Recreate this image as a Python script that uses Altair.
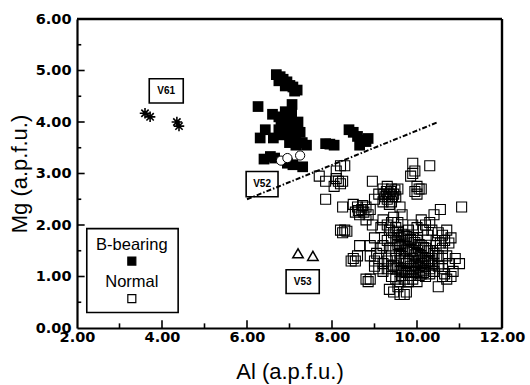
import altair as alt
import pandas as pd

# ---------------- data ----------------
# B-bearing (filled squares)
al_b = [6.69, 6.78, 6.85, 6.94, 7.01, 7.08, 7.18, 6.75, 6.90, 7.12, 6.26, 7.06,
        6.60, 6.75, 6.90, 7.05, 7.20, 6.80, 6.95, 7.10, 7.25, 6.85, 7.00, 7.15,
        7.30, 7.40, 7.00, 7.15, 6.90, 7.05, 6.75, 6.43, 6.31, 6.62,
        6.40, 6.55, 6.65, 7.08, 7.31, 6.95,
        7.85, 7.95, 8.05,
        8.40, 8.50, 8.60, 8.70, 8.80, 8.65, 8.85]
mg_b = [4.92, 4.88, 4.83, 4.78, 4.71, 4.68, 4.62, 4.80, 4.70, 4.60, 4.30, 4.34,
        4.15, 4.10, 4.05, 4.00, 4.00, 3.95, 3.90, 3.85, 3.80, 3.75, 3.75, 3.70,
        3.60, 3.55, 3.60, 3.55, 4.20, 4.15, 3.85, 3.85, 3.69, 3.69,
        3.28, 3.33, 3.30, 3.17, 3.13, 3.20,
        3.58, 3.57, 3.55,
        3.85, 3.80, 3.72, 3.65, 3.62, 3.55, 3.68]

# Normal (open squares)
al_n = [8.20, 8.30, 8.10, 8.15, 8.20, 8.05, 8.25, 7.70, 7.85, 7.85, 8.10,
        9.90, 9.95, 9.90, 10.30, 9.85, 10.00, 10.05, 9.95, 10.10, 10.00,
        9.20, 9.30, 9.40, 9.35, 9.25, 9.45, 9.30, 9.40, 9.20, 9.50, 9.35, 9.10, 9.55, 8.95, 9.60, 9.65, 9.00,
        9.28, 9.38, 9.32, 9.42, 9.22, 9.48,
        8.50, 8.60, 8.70, 8.80, 8.75, 8.65, 8.85, 8.55, 8.90, 8.25, 8.80, 8.62, 8.72,
        8.20, 8.30, 8.35, 8.25,
        9.20, 9.30, 9.40, 9.50, 9.35, 9.45, 9.55, 9.15,
        10.10, 10.20, 10.30, 10.40, 10.55, 10.35, 10.50, 10.60, 10.70, 10.80, 10.75, 10.45, 10.60, 10.25,
        10.15, 10.00, 9.90, 9.80, 9.70, 9.60, 9.50, 9.60, 9.70, 9.80, 9.90, 10.00, 10.10, 10.20, 10.30,
        10.40, 10.50, 10.60, 10.70, 10.75, 9.50, 9.60, 9.70, 9.80, 9.90, 10.00, 10.10, 10.20, 10.30,
        10.40, 10.50, 10.60, 9.40, 9.50, 9.60, 9.70, 9.80, 9.90, 10.00, 10.10, 10.20, 10.30, 10.40,
        9.30, 9.20, 9.10, 9.00, 8.90, 8.90, 9.00, 9.10, 9.20, 9.30, 9.40, 9.50, 9.60, 9.70, 9.80,
        9.90, 10.00, 10.10, 10.20, 10.30, 9.40, 9.50, 9.60, 9.70, 9.80, 9.90, 10.00,
        10.60, 10.70, 10.80, 10.65, 10.85, 11.00, 10.90, 10.50, 9.45, 9.60, 9.70, 9.75, 9.35, 9.55,
        9.20, 9.30, 9.40, 9.45, 9.55, 9.35, 8.80, 8.85, 8.90, 8.50, 8.55, 8.45, 8.60, 8.65,
        9.05, 9.15, 11.05, 9.00, 8.95,
        9.55, 9.65, 9.75, 9.85, 9.95, 10.05, 10.15, 10.25, 10.35,
        9.55, 9.65, 9.75, 9.85, 9.95, 10.05, 10.15, 10.25,
        9.45, 9.55, 9.65, 9.75, 9.85, 9.95, 10.05, 10.15, 10.25, 10.35,
        9.65, 9.75, 9.85, 9.95, 10.05, 10.15, 10.45, 10.55, 10.65]
mg_n = [3.15, 3.15, 3.05, 2.85, 2.80, 2.75, 2.85, 2.95, 2.85, 2.50, 2.90,
        3.20, 3.05, 3.00, 3.15, 2.95, 2.75, 2.70, 2.65, 2.70, 2.60,
        2.70, 2.75, 2.70, 2.60, 2.55, 2.60, 2.50, 2.45, 2.45, 2.55, 2.40, 2.60, 2.70, 2.85, 2.35, 2.20, 2.50,
        2.65, 2.65, 2.55, 2.55, 2.60, 2.68,
        2.40, 2.35, 2.30, 2.35, 2.25, 2.20, 2.20, 2.25, 2.30, 2.35, 2.10, 2.28, 2.38,
        1.90, 1.90, 1.88, 1.85,
        2.10, 2.00, 2.05, 1.95, 1.90, 2.15, 2.05, 1.95,
        2.10, 2.00, 2.05, 2.20, 2.30, 1.90, 1.85, 1.80, 1.90, 1.75, 1.65, 1.70, 1.55, 1.80,
        1.90, 1.95, 2.00, 1.90, 1.80, 1.75, 1.70, 1.60, 1.65, 1.70, 1.75, 1.70, 1.60, 1.55, 1.50,
        1.45, 1.40, 1.35, 1.40, 1.25, 1.50, 1.45, 1.50, 1.55, 1.50, 1.45, 1.40, 1.35, 1.30,
        1.25, 1.20, 1.15, 1.40, 1.35, 1.30, 1.35, 1.30, 1.35, 1.30, 1.25, 1.20, 1.15, 1.10,
        1.30, 1.25, 1.35, 1.30, 1.40, 1.60, 1.20, 1.15, 1.10, 1.15, 1.20, 1.15, 1.10, 1.15, 1.10,
        1.15, 1.10, 1.05, 1.00, 1.05, 1.00, 0.95, 0.90, 0.95, 0.90, 0.95, 0.90,
        1.00, 0.95, 1.00, 1.05, 1.10, 1.25, 1.35, 0.80, 0.70, 0.65, 0.65, 0.70, 0.75, 0.80,
        1.60, 1.70, 1.75, 1.85, 1.80, 1.55, 0.95, 0.90, 0.95, 1.35, 1.30, 1.30, 1.40, 1.60,
        1.45, 1.55, 2.35, 1.75, 2.00,
        1.62, 1.58, 1.52, 1.48, 1.42, 1.38, 1.32, 1.28, 1.22,
        1.88, 1.82, 1.78, 1.72, 1.66, 1.62, 1.56, 1.50,
        1.22, 1.18, 1.12, 1.25, 1.20, 1.22, 1.18, 1.12, 1.30, 1.35,
        1.02, 1.08, 1.02, 1.08, 1.02, 1.08, 1.60, 1.65, 1.70]

# V52 (open circles), V53 (open triangles), V61 (asterisks)
al_v52 = [6.80, 6.95, 7.25]
mg_v52 = [3.25, 3.30, 3.35]
al_v53 = [7.20, 7.55]
mg_v53 = [1.45, 1.40]
al_v61 = [3.60, 3.72, 4.35, 4.40]
mg_v61 = [4.17, 4.10, 4.00, 3.92]

# dash-dot boundary line
line_al = [6.0, 10.5]
line_mg = [2.5, 4.0]

# sample label boxes
lab_text = ["V61", "V52", "V53"]
lab_x1 = [3.70, 5.98, 6.92]
lab_x2 = [4.50, 6.73, 7.70]
lab_y1 = [4.37, 2.55, 0.67]
lab_y2 = [4.84, 3.04, 1.13]

# legend
leg_box_x = [2.23, 4.38]
leg_box_y = [0.30, 1.93]
leg_text = ["B-bearing", "Normal"]
leg_text_x = [3.29, 3.29]
leg_text_y = [1.62, 0.90]
leg_sym_x = [3.29, 3.29]
leg_sym_y = [1.30, 0.57]

x_major = [4, 6, 8, 10]
x_minor = [3, 5, 7, 9, 11]
y_major = [1, 2, 3, 4, 5]
y_minor = [0.5, 1.5, 2.5, 3.5, 4.5, 5.5]
x_labels = [2, 4, 6, 8, 10, 12]
y_labels = [0, 1, 2, 3, 4, 5, 6]
X_MIN, X_MAX = 2, 12
Y_MIN, Y_MAX = 0, 6

W, H = 425, 309

# ---------------- chart ----------------
xs = alt.Scale(domain=[X_MIN, X_MAX], nice=False, zero=False)
ys = alt.Scale(domain=[Y_MIN, Y_MAX], nice=False, zero=False)
lab_font = "DejaVu Sans"

xax = alt.Axis(values=x_labels, format=".2f", ticks=False, grid=False, domainColor="black", domainWidth=2.2,
               labelFlush=False, labelOverlap=False,
               labelFont=lab_font, labelFontWeight="bold", labelFontSize=14.5, labelColor="black",
               labelPadding=2, title="Al (a.p.f.u.)", titleFont="Liberation Sans",
               titleFontWeight="normal", titleFontSize=22, titleColor="black", titlePadding=18)
yax = alt.Axis(values=y_labels, format=".2f", ticks=False, grid=False, domainColor="black", domainWidth=2.2,
               labelFlush=False, labelOverlap=False,
               labelFont=lab_font, labelFontWeight="bold", labelFontSize=14.5, labelColor="black",
               labelPadding=6, title="Mg (a.p.f.u.)", titleFont="Liberation Sans",
               titleFontWeight="normal", titleFontSize=22, titleColor="black", titlePadding=4)

normal = alt.Chart(pd.DataFrame({"al": al_n, "mg": mg_n})).mark_point(
    shape="square", filled=False, stroke="black", strokeWidth=1.1, size=100, opacity=1
).encode(x=alt.X("al:Q", scale=xs, axis=xax), y=alt.Y("mg:Q", scale=ys, axis=yax))

bbear = alt.Chart(pd.DataFrame({"al": al_b, "mg": mg_b})).mark_point(
    shape="square", filled=True, color="black", size=115, opacity=1
).encode(x=alt.X("al:Q", scale=xs), y=alt.Y("mg:Q", scale=ys))

v52 = alt.Chart(pd.DataFrame({"al": al_v52, "mg": mg_v52})).mark_point(
    shape="circle", filled=True, fill="white", stroke="black", strokeWidth=1, size=85, opacity=1
).encode(x=alt.X("al:Q", scale=xs), y=alt.Y("mg:Q", scale=ys))

v53 = alt.Chart(pd.DataFrame({"al": al_v53, "mg": mg_v53})).mark_point(
    shape="triangle-up", filled=False, stroke="black", strokeWidth=1.5, size=110, opacity=1
).encode(x=alt.X("al:Q", scale=xs), y=alt.Y("mg:Q", scale=ys))

star_path = "M-1,0L1,0M0,-1L0,1M-0.7,-0.7L0.7,0.7M-0.7,0.7L0.7,-0.7"
v61 = alt.Chart(pd.DataFrame({"al": al_v61, "mg": mg_v61})).mark_point(
    shape=star_path, filled=False, stroke="black", strokeWidth=1.6, size=110, opacity=1
).encode(x=alt.X("al:Q", scale=xs), y=alt.Y("mg:Q", scale=ys))

bline = alt.Chart(pd.DataFrame({"al": line_al, "mg": line_mg})).mark_line(
    color="black", strokeWidth=2, strokeDash=[5, 2, 1.5, 2]
).encode(x=alt.X("al:Q", scale=xs), y=alt.Y("mg:Q", scale=ys))

lab_df = pd.DataFrame({"t": lab_text, "x1": lab_x1, "x2": lab_x2, "y1": lab_y1, "y2": lab_y2})
lab_box = alt.Chart(lab_df).mark_rect(fill=None, stroke="black", strokeWidth=1.6).encode(
    x=alt.X("x1:Q", scale=xs), x2="x2:Q", y=alt.Y("y1:Q", scale=ys), y2="y2:Q")
lab_txt = alt.Chart(lab_df).transform_calculate(
    xc="(datum.x1 + datum.x2) / 2", yc="(datum.y1 + datum.y2) / 2"
).mark_text(font="Liberation Sans", fontWeight="bold", fontSize=10, color="black",
            align="center", baseline="middle").encode(
    x=alt.X("xc:Q", scale=xs), y=alt.Y("yc:Q", scale=ys), text="t:N")

leg_box = alt.Chart(pd.DataFrame({"x1": [leg_box_x[0]], "x2": [leg_box_x[1]],
                                  "y1": [leg_box_y[0]], "y2": [leg_box_y[1]]})).mark_rect(
    fill=None, stroke="black", strokeWidth=1.6).encode(
    x=alt.X("x1:Q", scale=xs), x2="x2:Q", y=alt.Y("y1:Q", scale=ys), y2="y2:Q")
leg_txt = alt.Chart(pd.DataFrame({"t": leg_text, "x": leg_text_x, "y": leg_text_y})).mark_text(
    font="Liberation Sans", fontSize=16.5, color="black", align="center", baseline="middle").encode(
    x=alt.X("x:Q", scale=xs), y=alt.Y("y:Q", scale=ys), text="t:N")
leg_sym = alt.Chart(pd.DataFrame({"x": leg_sym_x, "y": leg_sym_y})).mark_point(
    shape="square", filled=False, stroke="black", strokeWidth=1.2, size=64, opacity=1).encode(
    x=alt.X("x:Q", scale=xs), y=alt.Y("y:Q", scale=ys))
leg_sym_fill_layer = alt.Chart(pd.DataFrame({"x": leg_sym_x[:1], "y": leg_sym_y[:1]})).mark_point(
    shape="square", filled=True, color="black", size=64, opacity=1).encode(
    x=alt.X("x:Q", scale=xs), y=alt.Y("y:Q", scale=ys))

# plot frame: top and right edges drawn as lines through corner points
frame_top = alt.Chart(pd.DataFrame({"fx": [X_MIN, X_MAX], "fy": [Y_MAX, Y_MAX]})).mark_line(
    color="black", strokeWidth=2.4, clip=False).encode(
    x=alt.X("fx:Q", scale=xs), y=alt.Y("fy:Q", scale=ys))
frame_right = alt.Chart(pd.DataFrame({"fx": [X_MAX, X_MAX], "fy": [Y_MIN, Y_MAX]})).mark_line(
    color="black", strokeWidth=2.4, clip=False).encode(
    x=alt.X("fx:Q", scale=xs), y=alt.Y("fy:Q", scale=ys))

# inward ticks as short line segments (lengths in data units: ~7px and ~4px)
xt_v, xt_y, xt_id = [], [], []
for i, v in enumerate(x_major + x_minor):
    ln = 0.15 if v in x_major else 0.09
    xt_v += [v, v]
    xt_y += [Y_MIN, ln]
    xt_id += [i, i]
yt_v, yt_x, yt_id = [], [], []
for i, v in enumerate(y_major + y_minor):
    ln = 2.18 if v in y_major else 2.10
    yt_v += [v, v]
    yt_x += [X_MIN, ln]
    yt_id += [i, i]
xticks = alt.Chart(pd.DataFrame({"v": xt_v, "ty": xt_y, "g": xt_id})).mark_line(
    color="black", strokeWidth=1.6, clip=False).encode(
    x=alt.X("v:Q", scale=xs), y=alt.Y("ty:Q", scale=ys), detail="g:N")
yticks = alt.Chart(pd.DataFrame({"v": yt_v, "tx": yt_x, "g": yt_id})).mark_line(
    color="black", strokeWidth=1.6, clip=False).encode(
    y=alt.Y("v:Q", scale=ys), x=alt.X("tx:Q", scale=xs), detail="g:N", order="tx:Q")

chart = alt.layer(
    normal, bline, bbear, v52, v53, v61, lab_box, lab_txt,
    leg_box, leg_txt, leg_sym, leg_sym_fill_layer, xticks, yticks, frame_top, frame_right
).properties(
    width=W, height=H, autosize="none",
    padding={"left": 77, "top": 19, "right": 28, "bottom": 57}
).configure_view(stroke="black", strokeWidth=2.2).configure(background="white")

chart.save("out.html", embed_options={"renderer": "svg", "actions": False})
